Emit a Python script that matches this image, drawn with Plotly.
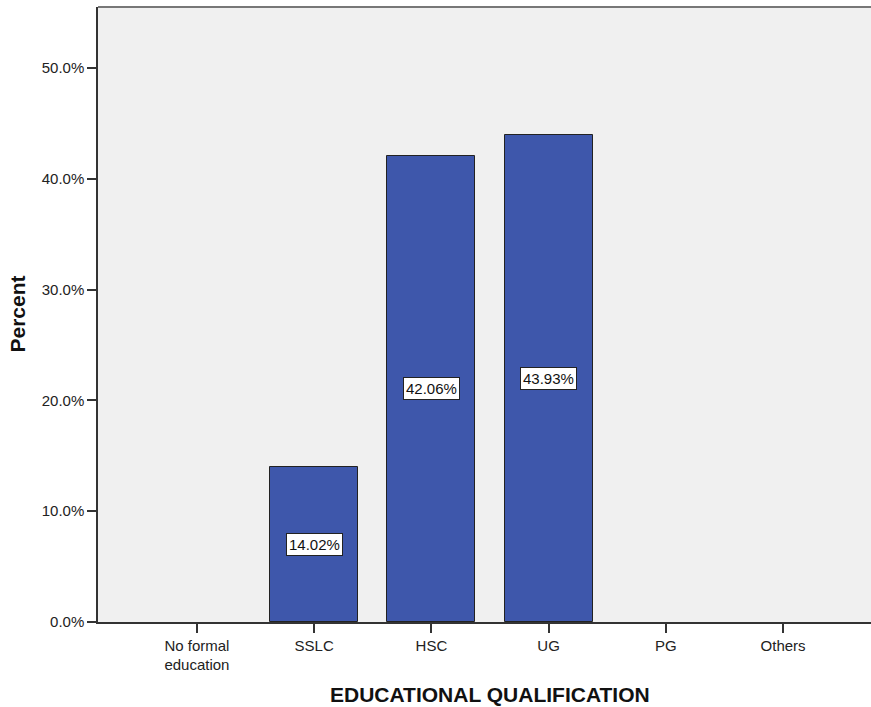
import plotly.graph_objects as go

categories = ["No formal<br>education", "SSLC", "HSC", "UG", "PG", "Others"]
percent = [0, 14.02, 42.06, 43.93, 0, 0]
y_ticks = [0, 10, 20, 30, 40, 50]
y_tick_labels = ["0.0%", "10.0%", "20.0%", "30.0%", "40.0%", "50.0%"]

xs = list(range(len(categories)))
bar_y = [v if v > 0 else None for v in percent]
font = "Liberation Sans, Arial, sans-serif"

W, H = 871, 707
ML, MR, MT, MB = 98, 0, 7, 85
plot_w = W - ML - MR
plot_h = H - MT - MB

fig = go.Figure()
fig.add_trace(go.Bar(
    x=xs, y=bar_y, width=0.75,
    marker=dict(color="#3E57AB", line=dict(color="#222222", width=1)),
    hoverinfo="skip",
))

annotations = []
for x, v in zip(xs, percent):
    if v > 0:
        annotations.append(dict(
            x=x, y=v / 2, xref="x", yref="y", text=f"{v:.2f}%", showarrow=False,
            font=dict(family=font, size=15, color="#111111"),
            bgcolor="white", bordercolor="#222222", borderwidth=1, borderpad=2,
        ))
annotations.append(dict(
    x=2.5, y=-(694 - (H - MB)) / plot_h, xref="x", yref="paper",
    text="<b>EDUCATIONAL QUALIFICATION</b>",
    showarrow=False, font=dict(family=font, size=21, color="#111111"),
    yanchor="middle", xanchor="center",
))
annotations.append(dict(
    x=-(ML - 17) / plot_w, y=0.5, xref="paper", yref="paper",
    text="<b>Percent</b>", textangle=-90,
    showarrow=False, font=dict(family=font, size=21, color="#111111"),
    yanchor="middle", xanchor="center",
))

fig.update_layout(
    width=W, height=H,
    margin=dict(l=ML, r=MR, t=MT, b=MB, pad=0),
    paper_bgcolor="white", plot_bgcolor="#F0F0F0",
    showlegend=False,
    annotations=annotations,
    bargap=0,
    font=dict(family=font, size=15, color="#222222"),
)
fig.update_xaxes(
    range=[-0.844, 5.75], tickvals=xs, ticktext=categories,
    ticks="outside", ticklen=9, tickcolor="#333333", tickwidth=1.5,
    showline=True, linecolor="#333333", linewidth=1.5,
    showgrid=False, zeroline=False, tickfont=dict(size=15, color="#222222"),
    fixedrange=True,
)
fig.update_yaxes(
    range=[0, 55.5], tickvals=y_ticks, ticktext=y_tick_labels,
    ticks="outside", ticklen=9, tickcolor="#333333", tickwidth=1.5,
    showline=True, linecolor="#333333", linewidth=1.5,
    showgrid=False, zeroline=False, tickfont=dict(size=15, color="#222222"),
    fixedrange=True,
)
fig.add_shape(type="line", xref="paper", yref="paper", x0=0, x1=1, y0=1, y1=1,
              line=dict(color="#777777", width=2))

fig.write_html(
    "out.html",
    config={"displayModeBar": False},
    post_script="document.body.style.margin='0';document.body.style.overflow='hidden';",
)
